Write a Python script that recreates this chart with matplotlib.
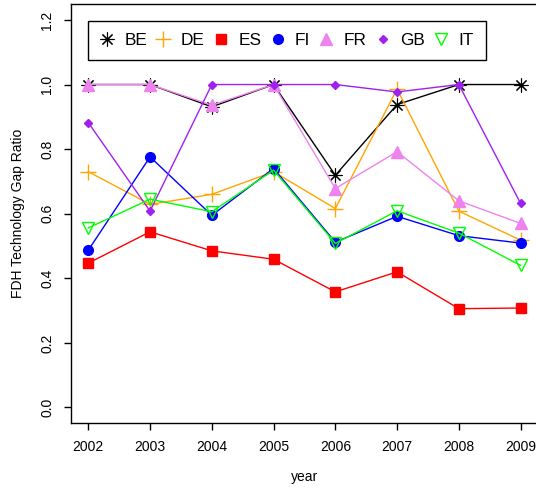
import matplotlib
matplotlib.use('Agg')
import matplotlib.pyplot as plt
from matplotlib.lines import Line2D

plt.rcParams['font.family'] = ['Liberation Sans', 'DejaVu Sans']

years = [2002, 2003, 2004, 2005, 2006, 2007, 2008, 2009]
countries = ["BE", "DE", "ES", "FI", "FR", "GB", "IT"]

be = [1.0, 1.0, 0.931, 1.0, 0.719, 0.938, 1.0, 1.0]
de = [0.730, 0.629, 0.660, 0.730, 0.616, 0.986, 0.608, 0.518]
es = [0.447, 0.544, 0.485, 0.459, 0.358, 0.420, 0.306, 0.308]
fi = [0.487, 0.776, 0.595, 0.740, 0.512, 0.592, 0.532, 0.509]
fr = [1.0, 1.0, 0.936, 1.0, 0.678, 0.792, 0.640, 0.570]
gb = [0.882, 0.608, 1.0, 1.0, 1.0, 0.977, 1.0, 0.632]
it = [0.556, 0.645, 0.606, 0.735, 0.508, 0.609, 0.540, 0.440]

series = [be, de, es, fi, fr, gb, it]
colors = ['black', '#FFA500', '#FF0000', '#0000FF', '#EE82EE', '#A020F0', '#00FF00']
markers = [(8, 2, 0), '+', 's', 'o', '^', 'D', 'v']
msizes = [10, 11, 7.5, 7, 8, 4.5, 8]
mew = [0.8, 1, 1, 1, 1, 1, 1]
filled = [True, True, True, True, True, True, False]

fig = plt.figure(figsize=(5.36, 4.93), dpi=100)
ax = fig.add_axes([0.1325, 0.142, 0.871, 0.849])

for y, c, m, s, w, f in zip(series, colors, markers, msizes, mew, filled):
    ax.plot(years, y, color=c, lw=1, marker=m, markersize=s,
            markerfacecolor=c if f else 'none', markeredgecolor=c,
            markeredgewidth=w)

ax.set_xlim(2002 - 0.28, 2009 + 0.28)
ax.set_ylim(-0.048, 1.248)
ax.set_xticks(years)
ax.set_yticks([0.0, 0.2, 0.4, 0.6, 0.8, 1.0, 1.2])
ax.set_yticklabels(['0.0', '0.2', '0.4', '0.6', '0.8', '1.0', '1.2'],
                   rotation=90, va='center')
ax.tick_params(direction='out', length=5, width=1, labelsize=10, pad=7)
for sp in ax.spines.values():
    sp.set_linewidth(1)
ax.set_xlabel('year', fontsize=10, labelpad=12)
ax.set_ylabel('FDH Technology Gap Ratio', fontsize=10, labelpad=11)

handles = [Line2D([], [], linestyle='none', color=c, marker=m, markersize=s,
                  markeredgewidth=w,
                  markerfacecolor=c if f else 'none', markeredgecolor=c)
           for c, m, s, w, f in zip(colors, markers, msizes, mew, filled)]
leg = ax.legend(handles, countries, loc='upper left', ncol=7,
                bbox_to_anchor=(0.0365, 0.9606), borderaxespad=0,
                fontsize=12.4, handlelength=0.8, handletextpad=0.6,
                columnspacing=0.55, fancybox=False, framealpha=1,
                edgecolor='black', borderpad=0.7)
leg.get_frame().set_linewidth(1)

fig.savefig('out.png', dpi=100)
